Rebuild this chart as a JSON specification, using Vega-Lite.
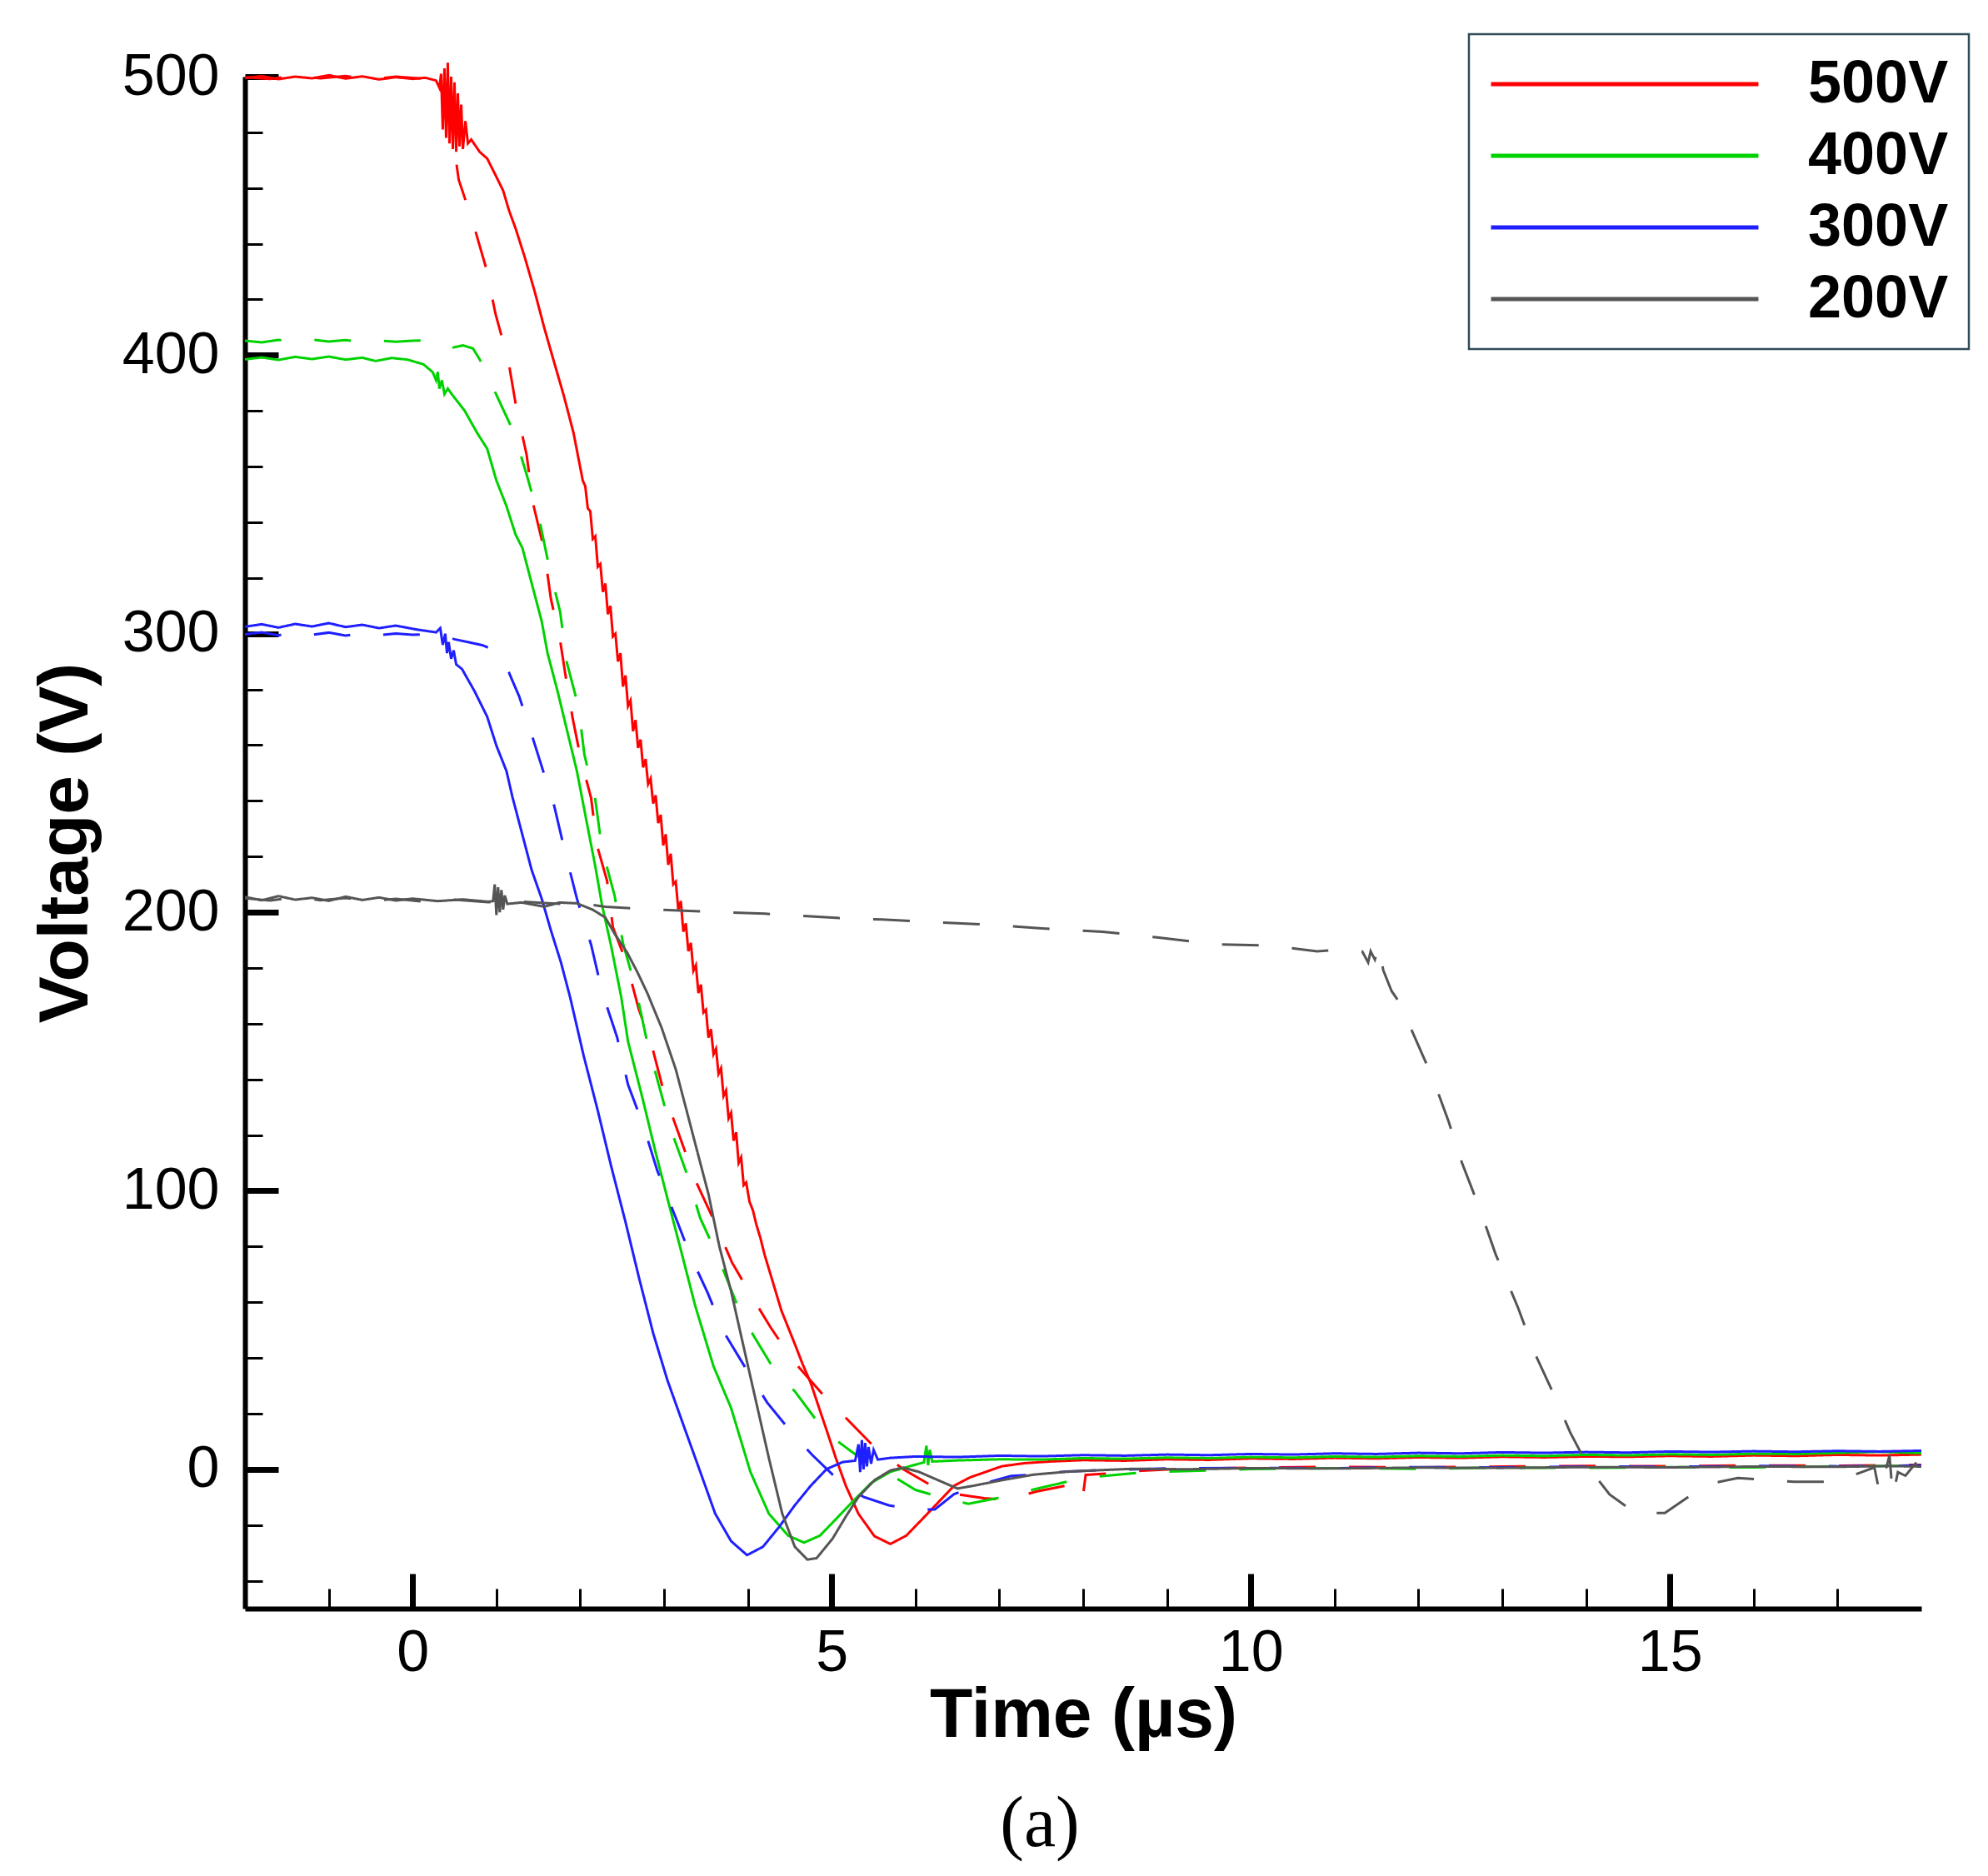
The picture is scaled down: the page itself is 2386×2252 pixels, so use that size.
{
  "$schema": "https://vega.github.io/schema/vega-lite/v6.json",
  "autosize": {"type": "none"},
  "padding": {"left": 294, "top": 92, "right": 80, "bottom": 321},
  "width": 2012,
  "height": 1839,
  "background": "white",
  "title": {
    "text": "(a)",
    "orient": "bottom",
    "anchor": "middle",
    "font": "Liberation Serif",
    "fontSize": 86,
    "fontWeight": "normal",
    "color": "black",
    "offset": 47,
    "dx": -52
  },
  "data": {
    "values": [
      {"s":"500V","k":"solid","t":-2,"v":499.5},{"s":"500V","k":"solid","t":-1.8,"v":500.2},{"s":"500V","k":"solid","t":-1.6,"v":499.1},{"s":"500V","k":"solid","t":-1.4,"v":500},{"s":"500V","k":"solid","t":-1.2,"v":499.4},{"s":"500V","k":"solid","t":-1,"v":500.5},{"s":"500V","k":"solid","t":-0.8,"v":499.3},{"s":"500V","k":"solid","t":-0.6,"v":500.1},{"s":"500V","k":"solid","t":-0.4,"v":499},{"s":"500V","k":"solid","t":-0.2,"v":499.8},{"s":"500V","k":"solid","t":0,"v":499.2},{"s":"500V","k":"solid","t":0.15,"v":499.6},{"s":"500V","k":"solid","t":0.28,"v":498.6},{"s":"500V","k":"solid","t":0.32,"v":496},{"s":"500V","k":"solid","t":0.34,"v":501},{"s":"500V","k":"solid","t":0.36,"v":481},{"s":"500V","k":"solid","t":0.38,"v":503},{"s":"500V","k":"solid","t":0.4,"v":478},{"s":"500V","k":"solid","t":0.42,"v":505},{"s":"500V","k":"solid","t":0.44,"v":476},{"s":"500V","k":"solid","t":0.46,"v":500},{"s":"500V","k":"solid","t":0.48,"v":474},{"s":"500V","k":"solid","t":0.5,"v":498},{"s":"500V","k":"solid","t":0.52,"v":473},{"s":"500V","k":"solid","t":0.54,"v":494},{"s":"500V","k":"solid","t":0.56,"v":475},{"s":"500V","k":"solid","t":0.58,"v":490},{"s":"500V","k":"solid","t":0.6,"v":474},{"s":"500V","k":"solid","t":0.63,"v":484},{"s":"500V","k":"solid","t":0.66,"v":476},{"s":"500V","k":"solid","t":0.7,"v":477.4},{"s":"500V","k":"solid","t":0.8,"v":473},{"s":"500V","k":"solid","t":0.89,"v":470.6},{"s":"500V","k":"solid","t":1,"v":464},{"s":"500V","k":"solid","t":1.08,"v":459.1},{"s":"500V","k":"solid","t":1.15,"v":452},{"s":"500V","k":"solid","t":1.23,"v":445.4},{"s":"500V","k":"solid","t":1.34,"v":435},{"s":"500V","k":"solid","t":1.46,"v":422.5},{"s":"500V","k":"solid","t":1.57,"v":409.9},{"s":"500V","k":"solid","t":1.69,"v":397.3},{"s":"500V","k":"solid","t":1.8,"v":385.9},{"s":"500V","k":"solid","t":1.92,"v":372.1},{"s":"500V","k":"solid","t":2.03,"v":355},{"s":"500V","k":"solid","t":2.06,"v":353},{"s":"500V","k":"solid","t":2.09,"v":345},{"s":"500V","k":"solid","t":2.12,"v":344},{"s":"500V","k":"solid","t":2.15,"v":334},{"s":"500V","k":"solid","t":2.18,"v":335},{"s":"500V","k":"solid","t":2.21,"v":324},{"s":"500V","k":"solid","t":2.24,"v":325},{"s":"500V","k":"solid","t":2.27,"v":315},{"s":"500V","k":"solid","t":2.3,"v":318},{"s":"500V","k":"solid","t":2.33,"v":307},{"s":"500V","k":"solid","t":2.36,"v":310},{"s":"500V","k":"solid","t":2.39,"v":299},{"s":"500V","k":"solid","t":2.42,"v":300},{"s":"500V","k":"solid","t":2.45,"v":290},{"s":"500V","k":"solid","t":2.48,"v":293},{"s":"500V","k":"solid","t":2.51,"v":281},{"s":"500V","k":"solid","t":2.54,"v":285},{"s":"500V","k":"solid","t":2.57,"v":274},{"s":"500V","k":"solid","t":2.6,"v":276},{"s":"500V","k":"solid","t":2.63,"v":265},{"s":"500V","k":"solid","t":2.66,"v":269},{"s":"500V","k":"solid","t":2.69,"v":259},{"s":"500V","k":"solid","t":2.72,"v":262},{"s":"500V","k":"solid","t":2.75,"v":252},{"s":"500V","k":"solid","t":2.78,"v":255},{"s":"500V","k":"solid","t":2.81,"v":246},{"s":"500V","k":"solid","t":2.84,"v":248},{"s":"500V","k":"solid","t":2.87,"v":239},{"s":"500V","k":"solid","t":2.9,"v":242},{"s":"500V","k":"solid","t":2.93,"v":232},{"s":"500V","k":"solid","t":2.96,"v":235},{"s":"500V","k":"solid","t":2.99,"v":224},{"s":"500V","k":"solid","t":3.02,"v":228},{"s":"500V","k":"solid","t":3.05,"v":217},{"s":"500V","k":"solid","t":3.08,"v":221},{"s":"500V","k":"solid","t":3.11,"v":210},{"s":"500V","k":"solid","t":3.14,"v":211},{"s":"500V","k":"solid","t":3.17,"v":201},{"s":"500V","k":"solid","t":3.2,"v":204},{"s":"500V","k":"solid","t":3.23,"v":193},{"s":"500V","k":"solid","t":3.26,"v":196},{"s":"500V","k":"solid","t":3.29,"v":186},{"s":"500V","k":"solid","t":3.32,"v":189},{"s":"500V","k":"solid","t":3.35,"v":179},{"s":"500V","k":"solid","t":3.38,"v":181},{"s":"500V","k":"solid","t":3.41,"v":171},{"s":"500V","k":"solid","t":3.44,"v":174},{"s":"500V","k":"solid","t":3.47,"v":164},{"s":"500V","k":"solid","t":3.5,"v":165},{"s":"500V","k":"solid","t":3.53,"v":155},{"s":"500V","k":"solid","t":3.56,"v":158},{"s":"500V","k":"solid","t":3.59,"v":149},{"s":"500V","k":"solid","t":3.62,"v":151},{"s":"500V","k":"solid","t":3.65,"v":142},{"s":"500V","k":"solid","t":3.68,"v":144},{"s":"500V","k":"solid","t":3.71,"v":134},{"s":"500V","k":"solid","t":3.74,"v":136},{"s":"500V","k":"solid","t":3.77,"v":126},{"s":"500V","k":"solid","t":3.8,"v":128},{"s":"500V","k":"solid","t":3.83,"v":118},{"s":"500V","k":"solid","t":3.86,"v":121},{"s":"500V","k":"solid","t":3.89,"v":110},{"s":"500V","k":"solid","t":3.92,"v":112},{"s":"500V","k":"solid","t":3.95,"v":102},{"s":"500V","k":"solid","t":3.98,"v":103},{"s":"500V","k":"solid","t":4.02,"v":96},{"s":"500V","k":"solid","t":4.06,"v":93},{"s":"500V","k":"solid","t":4.1,"v":88},{"s":"500V","k":"solid","t":4.15,"v":83},{"s":"500V","k":"solid","t":4.2,"v":77},{"s":"500V","k":"solid","t":4.25,"v":72},{"s":"500V","k":"solid","t":4.3,"v":67},{"s":"500V","k":"solid","t":4.35,"v":62},{"s":"500V","k":"solid","t":4.4,"v":57},{"s":"500V","k":"solid","t":4.48,"v":51},{"s":"500V","k":"solid","t":4.56,"v":45},{"s":"500V","k":"solid","t":4.65,"v":38},{"s":"500V","k":"solid","t":4.75,"v":31},{"s":"500V","k":"solid","t":4.85,"v":22},{"s":"500V","k":"solid","t":4.94,"v":14},{"s":"500V","k":"solid","t":5.05,"v":4},{"s":"500V","k":"solid","t":5.17,"v":-6},{"s":"500V","k":"solid","t":5.32,"v":-16},{"s":"500V","k":"solid","t":5.51,"v":-24},{"s":"500V","k":"solid","t":5.7,"v":-26.8},{"s":"500V","k":"solid","t":5.89,"v":-23.8},{"s":"500V","k":"solid","t":6.08,"v":-17.9},{"s":"500V","k":"solid","t":6.27,"v":-11.9},{"s":"500V","k":"solid","t":6.46,"v":-5.9},{"s":"500V","k":"solid","t":6.65,"v":-2.9},{"s":"500V","k":"solid","t":6.84,"v":-0.9},{"s":"500V","k":"solid","t":7.03,"v":1.1},{"s":"500V","k":"solid","t":7.3,"v":2.2},{"s":"500V","k":"solid","t":7.6,"v":2.8},{"s":"500V","k":"solid","t":8,"v":3.3},{"s":"500V","k":"solid","t":8.5,"v":3.1},{"s":"500V","k":"solid","t":9,"v":3.6},{"s":"500V","k":"solid","t":9.5,"v":3.4},{"s":"500V","k":"solid","t":10,"v":3.9},{"s":"500V","k":"solid","t":10.5,"v":3.7},{"s":"500V","k":"solid","t":11,"v":4.1},{"s":"500V","k":"solid","t":11.5,"v":3.9},{"s":"500V","k":"solid","t":12,"v":4.3},{"s":"500V","k":"solid","t":12.5,"v":4.1},{"s":"500V","k":"solid","t":13,"v":4.5},{"s":"500V","k":"solid","t":13.5,"v":4.3},{"s":"500V","k":"solid","t":14,"v":4.6},{"s":"500V","k":"solid","t":14.5,"v":4.5},{"s":"500V","k":"solid","t":15,"v":4.8},{"s":"500V","k":"solid","t":15.5,"v":4.6},{"s":"500V","k":"solid","t":16,"v":5},{"s":"500V","k":"solid","t":16.5,"v":4.8},{"s":"500V","k":"solid","t":17,"v":5.2},{"s":"500V","k":"solid","t":17.5,"v":5},{"s":"500V","k":"solid","t":18,"v":5.3},

      {"s":"500V","k":"dashed","t":-2,"v":499.8},{"s":"500V","k":"dashed","t":-1.7,"v":499.2},{"s":"500V","k":"dashed","t":-1.4,"v":500.3},{"s":"500V","k":"dashed","t":-1.1,"v":499.4},{"s":"500V","k":"dashed","t":-0.8,"v":500.2},{"s":"500V","k":"dashed","t":-0.5,"v":499.1},{"s":"500V","k":"dashed","t":-0.2,"v":500},{"s":"500V","k":"dashed","t":0.1,"v":499.3},{"s":"500V","k":"dashed","t":0.3,"v":498.5},{"s":"500V","k":"dashed","t":0.4,"v":490},{"s":"500V","k":"dashed","t":0.48,"v":478},{"s":"500V","k":"dashed","t":0.55,"v":463},{"s":"500V","k":"dashed","t":0.72,"v":447.6},{"s":"500V","k":"dashed","t":0.88,"v":431},{"s":"500V","k":"dashed","t":0.99,"v":414.7},{"s":"500V","k":"dashed","t":1.14,"v":398.4},{"s":"500V","k":"dashed","t":1.24,"v":380.7},{"s":"500V","k":"dashed","t":1.36,"v":364.3},{"s":"500V","k":"dashed","t":1.44,"v":346.4},{"s":"500V","k":"dashed","t":1.57,"v":330},{"s":"500V","k":"dashed","t":1.65,"v":312.5},{"s":"500V","k":"dashed","t":1.76,"v":297.6},{"s":"500V","k":"dashed","t":1.83,"v":284},{"s":"500V","k":"dashed","t":1.91,"v":269.6},{"s":"500V","k":"dashed","t":2.01,"v":254.6},{"s":"500V","k":"dashed","t":2.13,"v":241},{"s":"500V","k":"dashed","t":2.2,"v":224},{"s":"500V","k":"dashed","t":2.32,"v":211.3},{"s":"500V","k":"dashed","t":2.39,"v":194.6},{"s":"500V","k":"dashed","t":2.55,"v":182},{"s":"500V","k":"dashed","t":2.7,"v":165},{"s":"500V","k":"dashed","t":2.85,"v":152.6},{"s":"500V","k":"dashed","t":3,"v":135.1},{"s":"500V","k":"dashed","t":3.19,"v":119.2},{"s":"500V","k":"dashed","t":3.38,"v":103.3},{"s":"500V","k":"dashed","t":3.61,"v":88.4},{"s":"500V","k":"dashed","t":3.81,"v":74.3},{"s":"500V","k":"dashed","t":4.05,"v":61.9},{"s":"500V","k":"dashed","t":4.27,"v":51},{"s":"500V","k":"dashed","t":4.54,"v":39},{"s":"500V","k":"dashed","t":4.89,"v":27},{"s":"500V","k":"dashed","t":5.2,"v":17.5},{"s":"500V","k":"dashed","t":5.51,"v":8},{"s":"500V","k":"dashed","t":5.85,"v":0.1},{"s":"500V","k":"dashed","t":6.2,"v":-6},{"s":"500V","k":"dashed","t":6.5,"v":-9},{"s":"500V","k":"dashed","t":6.82,"v":-10.4},{"s":"500V","k":"dashed","t":7.09,"v":-10.9},{"s":"500V","k":"dashed","t":7.45,"v":-7.9},{"s":"500V","k":"dashed","t":7.79,"v":-5.9},{"s":"500V","k":"dashed","t":7.95,"v":-4},{"s":"500V","k":"dashed","t":8,"v":-9},{"s":"500V","k":"dashed","t":8.03,"v":-2},{"s":"500V","k":"dashed","t":8.3,"v":-1.5},{"s":"500V","k":"dashed","t":8.7,"v":-0.5},{"s":"500V","k":"dashed","t":9.2,"v":0.2},{"s":"500V","k":"dashed","t":10,"v":0.6},{"s":"500V","k":"dashed","t":11,"v":0.9},{"s":"500V","k":"dashed","t":12,"v":0.7},{"s":"500V","k":"dashed","t":13,"v":1},{"s":"500V","k":"dashed","t":14,"v":1.2},{"s":"500V","k":"dashed","t":15,"v":1.1},{"s":"500V","k":"dashed","t":16,"v":1.4},{"s":"500V","k":"dashed","t":17,"v":1.3},{"s":"500V","k":"dashed","t":18,"v":1.6},

      {"s":"400V","k":"solid","t":-2,"v":398.5},{"s":"400V","k":"solid","t":-1.8,"v":399.2},{"s":"400V","k":"solid","t":-1.6,"v":398.3},{"s":"400V","k":"solid","t":-1.4,"v":399.4},{"s":"400V","k":"solid","t":-1.2,"v":398.6},{"s":"400V","k":"solid","t":-1,"v":399.5},{"s":"400V","k":"solid","t":-0.8,"v":398.4},{"s":"400V","k":"solid","t":-0.6,"v":399.1},{"s":"400V","k":"solid","t":-0.44,"v":397.9},{"s":"400V","k":"solid","t":-0.25,"v":399},{"s":"400V","k":"solid","t":-0.06,"v":398.4},{"s":"400V","k":"solid","t":0.13,"v":396.7},{"s":"400V","k":"solid","t":0.24,"v":393.9},{"s":"400V","k":"solid","t":0.28,"v":391},{"s":"400V","k":"solid","t":0.3,"v":394},{"s":"400V","k":"solid","t":0.32,"v":388},{"s":"400V","k":"solid","t":0.35,"v":391},{"s":"400V","k":"solid","t":0.38,"v":386},{"s":"400V","k":"solid","t":0.42,"v":388},{"s":"400V","k":"solid","t":0.47,"v":385.9},{"s":"400V","k":"solid","t":0.62,"v":380.1},{"s":"400V","k":"solid","t":0.77,"v":372.1},{"s":"400V","k":"solid","t":0.89,"v":366.4},{"s":"400V","k":"solid","t":1,"v":355},{"s":"400V","k":"solid","t":1.12,"v":345.8},{"s":"400V","k":"solid","t":1.23,"v":335.5},{"s":"400V","k":"solid","t":1.31,"v":330.8},{"s":"400V","k":"solid","t":1.42,"v":318.2},{"s":"400V","k":"solid","t":1.54,"v":304.5},{"s":"400V","k":"solid","t":1.61,"v":293},{"s":"400V","k":"solid","t":1.73,"v":279.3},{"s":"400V","k":"solid","t":1.84,"v":265.6},{"s":"400V","k":"solid","t":1.96,"v":250.7},{"s":"400V","k":"solid","t":2.07,"v":233.5},{"s":"400V","k":"solid","t":2.18,"v":216.4},{"s":"400V","k":"solid","t":2.26,"v":202.6},{"s":"400V","k":"solid","t":2.37,"v":187.7},{"s":"400V","k":"solid","t":2.49,"v":169.4},{"s":"400V","k":"solid","t":2.57,"v":153.6},{"s":"400V","k":"solid","t":2.74,"v":133.6},{"s":"400V","k":"solid","t":2.9,"v":113.7},{"s":"400V","k":"solid","t":3.07,"v":93.8},{"s":"400V","k":"solid","t":3.2,"v":78.8},{"s":"400V","k":"solid","t":3.37,"v":58.9},{"s":"400V","k":"solid","t":3.59,"v":37},{"s":"400V","k":"solid","t":3.8,"v":22},{"s":"400V","k":"solid","t":4.03,"v":-0.9},{"s":"400V","k":"solid","t":4.25,"v":-15.9},{"s":"400V","k":"solid","t":4.48,"v":-23.8},{"s":"400V","k":"solid","t":4.67,"v":-26.3},{"s":"400V","k":"solid","t":4.86,"v":-23.8},{"s":"400V","k":"solid","t":5.05,"v":-17.9},{"s":"400V","k":"solid","t":5.24,"v":-11.9},{"s":"400V","k":"solid","t":5.47,"v":-4.9},{"s":"400V","k":"solid","t":5.7,"v":-0.9},{"s":"400V","k":"solid","t":5.93,"v":1.1},{"s":"400V","k":"solid","t":6.1,"v":2.5},{"s":"400V","k":"solid","t":6.13,"v":8.5},{"s":"400V","k":"solid","t":6.15,"v":1.5},{"s":"400V","k":"solid","t":6.17,"v":7},{"s":"400V","k":"solid","t":6.2,"v":2.8},{"s":"400V","k":"solid","t":6.5,"v":3.2},{"s":"400V","k":"solid","t":7,"v":3.6},{"s":"400V","k":"solid","t":7.5,"v":3.5},{"s":"400V","k":"solid","t":8,"v":4},{"s":"400V","k":"solid","t":8.5,"v":3.8},{"s":"400V","k":"solid","t":9,"v":4.2},{"s":"400V","k":"solid","t":9.5,"v":4},{"s":"400V","k":"solid","t":10,"v":4.4},{"s":"400V","k":"solid","t":10.5,"v":4.2},{"s":"400V","k":"solid","t":11,"v":4.6},{"s":"400V","k":"solid","t":11.5,"v":4.4},{"s":"400V","k":"solid","t":12,"v":4.8},{"s":"400V","k":"solid","t":12.5,"v":4.6},{"s":"400V","k":"solid","t":13,"v":5},{"s":"400V","k":"solid","t":13.5,"v":4.8},{"s":"400V","k":"solid","t":14,"v":5.2},{"s":"400V","k":"solid","t":14.5,"v":5},{"s":"400V","k":"solid","t":15,"v":5.4},{"s":"400V","k":"solid","t":15.5,"v":5.2},{"s":"400V","k":"solid","t":16,"v":5.6},{"s":"400V","k":"solid","t":16.5,"v":5.5},{"s":"400V","k":"solid","t":17,"v":5.9},{"s":"400V","k":"solid","t":17.5,"v":6.3},{"s":"400V","k":"solid","t":18,"v":5.8},

      {"s":"400V","k":"dashed","t":-2,"v":405.2},{"s":"400V","k":"dashed","t":-1.8,"v":404.6},{"s":"400V","k":"dashed","t":-1.6,"v":405.5},{"s":"400V","k":"dashed","t":-1.4,"v":404.8},{"s":"400V","k":"dashed","t":-1.2,"v":405.6},{"s":"400V","k":"dashed","t":-1,"v":404.9},{"s":"400V","k":"dashed","t":-0.8,"v":405.4},{"s":"400V","k":"dashed","t":-0.6,"v":404.7},{"s":"400V","k":"dashed","t":-0.4,"v":405.3},{"s":"400V","k":"dashed","t":-0.2,"v":404.8},{"s":"400V","k":"dashed","t":0,"v":405.2},{"s":"400V","k":"dashed","t":0.18,"v":405.3},{"s":"400V","k":"dashed","t":0.43,"v":402.4},{"s":"400V","k":"dashed","t":0.6,"v":403.5},{"s":"400V","k":"dashed","t":0.72,"v":402.4},{"s":"400V","k":"dashed","t":0.87,"v":395},{"s":"400V","k":"dashed","t":0.99,"v":386.4},{"s":"400V","k":"dashed","t":1.21,"v":372.1},{"s":"400V","k":"dashed","t":1.36,"v":357.2},{"s":"400V","k":"dashed","t":1.51,"v":341.2},{"s":"400V","k":"dashed","t":1.63,"v":323.9},{"s":"400V","k":"dashed","t":1.76,"v":307.9},{"s":"400V","k":"dashed","t":1.84,"v":289.7},{"s":"400V","k":"dashed","t":1.98,"v":273.6},{"s":"400V","k":"dashed","t":2.05,"v":256.5},{"s":"400V","k":"dashed","t":2.18,"v":240.4},{"s":"400V","k":"dashed","t":2.26,"v":222.7},{"s":"400V","k":"dashed","t":2.41,"v":206},{"s":"400V","k":"dashed","t":2.51,"v":188.9},{"s":"400V","k":"dashed","t":2.66,"v":172.9},{"s":"400V","k":"dashed","t":2.79,"v":154.6},{"s":"400V","k":"dashed","t":2.94,"v":137.7},{"s":"400V","k":"dashed","t":3.09,"v":121.2},{"s":"400V","k":"dashed","t":3.27,"v":106.3},{"s":"400V","k":"dashed","t":3.43,"v":90.3},{"s":"400V","k":"dashed","t":3.65,"v":75.8},{"s":"400V","k":"dashed","t":3.86,"v":60},{"s":"400V","k":"dashed","t":4.06,"v":48.4},{"s":"400V","k":"dashed","t":4.31,"v":36},{"s":"400V","k":"dashed","t":4.56,"v":28},{"s":"400V","k":"dashed","t":4.82,"v":17.5},{"s":"400V","k":"dashed","t":5.05,"v":10.5},{"s":"400V","k":"dashed","t":5.41,"v":2.6},{"s":"400V","k":"dashed","t":5.7,"v":-1.9},{"s":"400V","k":"dashed","t":6,"v":-7.4},{"s":"400V","k":"dashed","t":6.29,"v":-9.9},{"s":"400V","k":"dashed","t":6.63,"v":-12.4},{"s":"400V","k":"dashed","t":6.97,"v":-10.4},{"s":"400V","k":"dashed","t":7.31,"v":-7.9},{"s":"400V","k":"dashed","t":7.6,"v":-5.9},{"s":"400V","k":"dashed","t":7.9,"v":-3.8},{"s":"400V","k":"dashed","t":8.2,"v":-2.5},{"s":"400V","k":"dashed","t":8.6,"v":-1.4},{"s":"400V","k":"dashed","t":9,"v":-0.8},{"s":"400V","k":"dashed","t":9.5,"v":-0.4},{"s":"400V","k":"dashed","t":10,"v":0.1},{"s":"400V","k":"dashed","t":11,"v":0.4},{"s":"400V","k":"dashed","t":12,"v":0.2},{"s":"400V","k":"dashed","t":13,"v":0.6},{"s":"400V","k":"dashed","t":14,"v":0.5},{"s":"400V","k":"dashed","t":15,"v":0.8},{"s":"400V","k":"dashed","t":16,"v":0.7},{"s":"400V","k":"dashed","t":17,"v":1.1},{"s":"400V","k":"dashed","t":18,"v":1.3},

      {"s":"300V","k":"solid","t":-2,"v":302.5},{"s":"300V","k":"solid","t":-1.8,"v":303.4},{"s":"300V","k":"solid","t":-1.6,"v":302.2},{"s":"300V","k":"solid","t":-1.4,"v":303.5},{"s":"300V","k":"solid","t":-1.2,"v":302.6},{"s":"300V","k":"solid","t":-1,"v":303.8},{"s":"300V","k":"solid","t":-0.8,"v":302.4},{"s":"300V","k":"solid","t":-0.6,"v":303.2},{"s":"300V","k":"solid","t":-0.4,"v":302},{"s":"300V","k":"solid","t":-0.2,"v":302.9},{"s":"300V","k":"solid","t":0.05,"v":301.5},{"s":"300V","k":"solid","t":0.28,"v":300.5},{"s":"300V","k":"solid","t":0.33,"v":302},{"s":"300V","k":"solid","t":0.36,"v":296},{"s":"300V","k":"solid","t":0.39,"v":300},{"s":"300V","k":"solid","t":0.41,"v":293},{"s":"300V","k":"solid","t":0.43,"v":297},{"s":"300V","k":"solid","t":0.46,"v":291},{"s":"300V","k":"solid","t":0.49,"v":294},{"s":"300V","k":"solid","t":0.52,"v":289},{"s":"300V","k":"solid","t":0.59,"v":287.3},{"s":"300V","k":"solid","t":0.74,"v":279.3},{"s":"300V","k":"solid","t":0.89,"v":270.2},{"s":"300V","k":"solid","t":1,"v":259.8},{"s":"300V","k":"solid","t":1.12,"v":250.7},{"s":"300V","k":"solid","t":1.19,"v":241.5},{"s":"300V","k":"solid","t":1.31,"v":227.8},{"s":"300V","k":"solid","t":1.42,"v":215.2},{"s":"300V","k":"solid","t":1.54,"v":204.9},{"s":"300V","k":"solid","t":1.65,"v":193.5},{"s":"300V","k":"solid","t":1.77,"v":182},{"s":"300V","k":"solid","t":1.88,"v":169.4},{"s":"300V","k":"solid","t":2.04,"v":148.6},{"s":"300V","k":"solid","t":2.21,"v":128.7},{"s":"300V","k":"solid","t":2.37,"v":108.7},{"s":"300V","k":"solid","t":2.54,"v":88.8},{"s":"300V","k":"solid","t":2.7,"v":68.9},{"s":"300V","k":"solid","t":2.87,"v":48.9},{"s":"300V","k":"solid","t":3.04,"v":32},{"s":"300V","k":"solid","t":3.23,"v":16},{"s":"300V","k":"solid","t":3.42,"v":0.1},{"s":"300V","k":"solid","t":3.61,"v":-15.9},{"s":"300V","k":"solid","t":3.8,"v":-25.8},{"s":"300V","k":"solid","t":3.99,"v":-30.8},{"s":"300V","k":"solid","t":4.18,"v":-27.8},{"s":"300V","k":"solid","t":4.37,"v":-20.8},{"s":"300V","k":"solid","t":4.56,"v":-12.9},{"s":"300V","k":"solid","t":4.75,"v":-5.9},{"s":"300V","k":"solid","t":4.94,"v":0.1},{"s":"300V","k":"solid","t":5.13,"v":2.6},{"s":"300V","k":"solid","t":5.28,"v":3.1},{"s":"300V","k":"solid","t":5.32,"v":9},{"s":"300V","k":"solid","t":5.34,"v":-1},{"s":"300V","k":"solid","t":5.36,"v":10.5},{"s":"300V","k":"solid","t":5.38,"v":0},{"s":"300V","k":"solid","t":5.4,"v":9.5},{"s":"300V","k":"solid","t":5.42,"v":1},{"s":"300V","k":"solid","t":5.44,"v":8},{"s":"300V","k":"solid","t":5.47,"v":2},{"s":"300V","k":"solid","t":5.5,"v":7},{"s":"300V","k":"solid","t":5.55,"v":3.5},{"s":"300V","k":"solid","t":5.7,"v":4.1},{"s":"300V","k":"solid","t":6,"v":4.6},{"s":"300V","k":"solid","t":6.5,"v":4.4},{"s":"300V","k":"solid","t":7,"v":4.9},{"s":"300V","k":"solid","t":7.5,"v":4.7},{"s":"300V","k":"solid","t":8,"v":5.1},{"s":"300V","k":"solid","t":8.5,"v":4.9},{"s":"300V","k":"solid","t":9,"v":5.3},{"s":"300V","k":"solid","t":9.5,"v":5.1},{"s":"300V","k":"solid","t":10,"v":5.5},{"s":"300V","k":"solid","t":10.5,"v":5.3},{"s":"300V","k":"solid","t":11,"v":5.7},{"s":"300V","k":"solid","t":11.5,"v":5.5},{"s":"300V","k":"solid","t":12,"v":5.9},{"s":"300V","k":"solid","t":12.5,"v":5.7},{"s":"300V","k":"solid","t":13,"v":6.1},{"s":"300V","k":"solid","t":13.5,"v":5.9},{"s":"300V","k":"solid","t":14,"v":6.2},{"s":"300V","k":"solid","t":14.5,"v":6},{"s":"300V","k":"solid","t":15,"v":6.4},{"s":"300V","k":"solid","t":15.5,"v":6.2},{"s":"300V","k":"solid","t":16,"v":6.5},{"s":"300V","k":"solid","t":16.5,"v":6.3},{"s":"300V","k":"solid","t":17,"v":6.6},{"s":"300V","k":"solid","t":17.5,"v":6.4},{"s":"300V","k":"solid","t":18,"v":6.7},

      {"s":"300V","k":"dashed","t":-2,"v":299.8},{"s":"300V","k":"dashed","t":-1.8,"v":300.5},{"s":"300V","k":"dashed","t":-1.6,"v":299.4},{"s":"300V","k":"dashed","t":-1.4,"v":300.6},{"s":"300V","k":"dashed","t":-1.2,"v":299.6},{"s":"300V","k":"dashed","t":-1,"v":300.4},{"s":"300V","k":"dashed","t":-0.8,"v":299.3},{"s":"300V","k":"dashed","t":-0.6,"v":300.2},{"s":"300V","k":"dashed","t":-0.4,"v":299.5},{"s":"300V","k":"dashed","t":-0.2,"v":300.1},{"s":"300V","k":"dashed","t":0,"v":299.6},{"s":"300V","k":"dashed","t":0.3,"v":299.8},{"s":"300V","k":"dashed","t":0.5,"v":298},{"s":"300V","k":"dashed","t":0.66,"v":297},{"s":"300V","k":"dashed","t":0.83,"v":295.9},{"s":"300V","k":"dashed","t":0.97,"v":294.2},{"s":"300V","k":"dashed","t":1.1,"v":289.6},{"s":"300V","k":"dashed","t":1.18,"v":283.9},{"s":"300V","k":"dashed","t":1.27,"v":277.6},{"s":"300V","k":"dashed","t":1.39,"v":266.7},{"s":"300V","k":"dashed","t":1.54,"v":252.4},{"s":"300V","k":"dashed","t":1.69,"v":238.1},{"s":"300V","k":"dashed","t":1.81,"v":222.7},{"s":"300V","k":"dashed","t":1.96,"v":204.9},{"s":"300V","k":"dashed","t":2.13,"v":188.3},{"s":"300V","k":"dashed","t":2.26,"v":171.5},{"s":"300V","k":"dashed","t":2.44,"v":155.1},{"s":"300V","k":"dashed","t":2.57,"v":138.1},{"s":"300V","k":"dashed","t":2.75,"v":123.7},{"s":"300V","k":"dashed","t":2.92,"v":107.2},{"s":"300V","k":"dashed","t":3.14,"v":90.3},{"s":"300V","k":"dashed","t":3.32,"v":76.3},{"s":"300V","k":"dashed","t":3.52,"v":63.4},{"s":"300V","k":"dashed","t":3.71,"v":49.4},{"s":"300V","k":"dashed","t":3.96,"v":37},{"s":"300V","k":"dashed","t":4.23,"v":24},{"s":"300V","k":"dashed","t":4.5,"v":14},{"s":"300V","k":"dashed","t":4.77,"v":5.1},{"s":"300V","k":"dashed","t":5.01,"v":-1.9},{"s":"300V","k":"dashed","t":5.38,"v":-9.9},{"s":"300V","k":"dashed","t":5.68,"v":-12.9},{"s":"300V","k":"dashed","t":5.97,"v":-14.4},{"s":"300V","k":"dashed","t":6.23,"v":-14.4},{"s":"300V","k":"dashed","t":6.46,"v":-8.9},{"s":"300V","k":"dashed","t":6.84,"v":-4.9},{"s":"300V","k":"dashed","t":7.14,"v":-2.4},{"s":"300V","k":"dashed","t":7.41,"v":-1.9},{"s":"300V","k":"dashed","t":7.8,"v":-0.8},{"s":"300V","k":"dashed","t":8.3,"v":-0.2},{"s":"300V","k":"dashed","t":9,"v":0.3},{"s":"300V","k":"dashed","t":10,"v":0.5},{"s":"300V","k":"dashed","t":11,"v":0.4},{"s":"300V","k":"dashed","t":12,"v":0.8},{"s":"300V","k":"dashed","t":13,"v":0.7},{"s":"300V","k":"dashed","t":14,"v":1},{"s":"300V","k":"dashed","t":15,"v":0.9},{"s":"300V","k":"dashed","t":16,"v":1.2},{"s":"300V","k":"dashed","t":17,"v":1.1},{"s":"300V","k":"dashed","t":18,"v":1.4},

      {"s":"200V","k":"solid","t":-2,"v":205.5},{"s":"200V","k":"solid","t":-1.8,"v":204.3},{"s":"200V","k":"solid","t":-1.6,"v":205.8},{"s":"200V","k":"solid","t":-1.4,"v":204.5},{"s":"200V","k":"solid","t":-1.2,"v":205.2},{"s":"200V","k":"solid","t":-1,"v":204.1},{"s":"200V","k":"solid","t":-0.8,"v":205.6},{"s":"200V","k":"solid","t":-0.6,"v":204.4},{"s":"200V","k":"solid","t":-0.4,"v":205.3},{"s":"200V","k":"solid","t":-0.2,"v":204.2},{"s":"200V","k":"solid","t":0,"v":204.9},{"s":"200V","k":"solid","t":0.3,"v":204},{"s":"200V","k":"solid","t":0.6,"v":204.6},{"s":"200V","k":"solid","t":0.9,"v":203.8},{"s":"200V","k":"solid","t":0.96,"v":204},{"s":"200V","k":"solid","t":0.98,"v":210},{"s":"200V","k":"solid","t":1,"v":199},{"s":"200V","k":"solid","t":1.02,"v":209},{"s":"200V","k":"solid","t":1.04,"v":200},{"s":"200V","k":"solid","t":1.06,"v":208},{"s":"200V","k":"solid","t":1.08,"v":201},{"s":"200V","k":"solid","t":1.1,"v":206},{"s":"200V","k":"solid","t":1.13,"v":203},{"s":"200V","k":"solid","t":1.3,"v":203.5},{"s":"200V","k":"solid","t":1.57,"v":202},{"s":"200V","k":"solid","t":1.75,"v":203.5},{"s":"200V","k":"solid","t":1.96,"v":203.2},{"s":"200V","k":"solid","t":2.15,"v":200.9},{"s":"200V","k":"solid","t":2.3,"v":198.1},{"s":"200V","k":"solid","t":2.41,"v":192.3},{"s":"200V","k":"solid","t":2.56,"v":185.5},{"s":"200V","k":"solid","t":2.68,"v":178.6},{"s":"200V","k":"solid","t":2.8,"v":171},{"s":"200V","k":"solid","t":2.97,"v":158.6},{"s":"200V","k":"solid","t":3.14,"v":143.6},{"s":"200V","k":"solid","t":3.27,"v":128.7},{"s":"200V","k":"solid","t":3.4,"v":113.7},{"s":"200V","k":"solid","t":3.53,"v":98.8},{"s":"200V","k":"solid","t":3.66,"v":80},{"s":"200V","k":"solid","t":3.8,"v":63.9},{"s":"200V","k":"solid","t":3.95,"v":43.9},{"s":"200V","k":"solid","t":4.1,"v":24},{"s":"200V","k":"solid","t":4.25,"v":4.1},{"s":"200V","k":"solid","t":4.41,"v":-15.9},{"s":"200V","k":"solid","t":4.56,"v":-27.8},{"s":"200V","k":"solid","t":4.71,"v":-32.4},{"s":"200V","k":"solid","t":4.82,"v":-31.9},{"s":"200V","k":"solid","t":5.01,"v":-24.9},{"s":"200V","k":"solid","t":5.17,"v":-16.9},{"s":"200V","k":"solid","t":5.32,"v":-9.9},{"s":"200V","k":"solid","t":5.51,"v":-3.9},{"s":"200V","k":"solid","t":5.7,"v":-0.4},{"s":"200V","k":"solid","t":5.85,"v":0.6},{"s":"200V","k":"solid","t":6.04,"v":-0.9},{"s":"200V","k":"solid","t":6.27,"v":-3.9},{"s":"200V","k":"solid","t":6.5,"v":-6.9},{"s":"200V","k":"solid","t":6.69,"v":-5.9},{"s":"200V","k":"solid","t":7.03,"v":-3.9},{"s":"200V","k":"solid","t":7.41,"v":-1.9},{"s":"200V","k":"solid","t":7.79,"v":-0.9},{"s":"200V","k":"solid","t":8.2,"v":-0.3},{"s":"200V","k":"solid","t":8.6,"v":0.2},{"s":"200V","k":"solid","t":9.2,"v":0},{"s":"200V","k":"solid","t":10,"v":0.4},{"s":"200V","k":"solid","t":11,"v":0.3},{"s":"200V","k":"solid","t":12,"v":0.6},{"s":"200V","k":"solid","t":13,"v":0.5},{"s":"200V","k":"solid","t":14,"v":0.8},{"s":"200V","k":"solid","t":15,"v":0.7},{"s":"200V","k":"solid","t":16,"v":1},{"s":"200V","k":"solid","t":17,"v":0.9},{"s":"200V","k":"solid","t":17.6,"v":1.2},{"s":"200V","k":"solid","t":18,"v":1},

      {"s":"200V","k":"dashed","t":-2,"v":205},{"s":"200V","k":"dashed","t":-1.7,"v":204.2},{"s":"200V","k":"dashed","t":-1.4,"v":205.4},{"s":"200V","k":"dashed","t":-1.1,"v":204.3},{"s":"200V","k":"dashed","t":-0.8,"v":205.1},{"s":"200V","k":"dashed","t":-0.5,"v":204},{"s":"200V","k":"dashed","t":-0.2,"v":204.8},{"s":"200V","k":"dashed","t":0.1,"v":203.9},{"s":"200V","k":"dashed","t":0.5,"v":204.5},{"s":"200V","k":"dashed","t":0.9,"v":203.6},{"s":"200V","k":"dashed","t":1.3,"v":203.8},{"s":"200V","k":"dashed","t":1.7,"v":203.1},{"s":"200V","k":"dashed","t":2.1,"v":202.8},{"s":"200V","k":"dashed","t":2.3,"v":202},{"s":"200V","k":"dashed","t":2.56,"v":201.5},{"s":"200V","k":"dashed","t":2.9,"v":201},{"s":"200V","k":"dashed","t":3.3,"v":200.5},{"s":"200V","k":"dashed","t":3.78,"v":199.9},{"s":"200V","k":"dashed","t":4.2,"v":199.5},{"s":"200V","k":"dashed","t":4.55,"v":198.9},{"s":"200V","k":"dashed","t":5.09,"v":197.9},{"s":"200V","k":"dashed","t":5.6,"v":197.4},{"s":"200V","k":"dashed","t":6.26,"v":196.4},{"s":"200V","k":"dashed","t":6.94,"v":195.4},{"s":"200V","k":"dashed","t":7.51,"v":194.2},{"s":"200V","k":"dashed","t":8.23,"v":193},{"s":"200V","k":"dashed","t":8.88,"v":191},{"s":"200V","k":"dashed","t":9.57,"v":188.5},{"s":"200V","k":"dashed","t":10.25,"v":188},{"s":"200V","k":"dashed","t":10.79,"v":186},{"s":"200V","k":"dashed","t":11.06,"v":186.6},{"s":"200V","k":"dashed","t":11.33,"v":185.9},{"s":"200V","k":"dashed","t":11.4,"v":182},{"s":"200V","k":"dashed","t":11.43,"v":186},{"s":"200V","k":"dashed","t":11.48,"v":183},{"s":"200V","k":"dashed","t":11.53,"v":188.1},{"s":"200V","k":"dashed","t":11.58,"v":179.2},{"s":"200V","k":"dashed","t":11.68,"v":171.7},{"s":"200V","k":"dashed","t":11.78,"v":167.3},{"s":"200V","k":"dashed","t":11.93,"v":156.9},{"s":"200V","k":"dashed","t":12.17,"v":140.5},{"s":"200V","k":"dashed","t":12.36,"v":124.9},{"s":"200V","k":"dashed","t":12.52,"v":110},{"s":"200V","k":"dashed","t":12.74,"v":92.9},{"s":"200V","k":"dashed","t":12.92,"v":77.3},{"s":"200V","k":"dashed","t":13.19,"v":57.9},{"s":"200V","k":"dashed","t":13.39,"v":41.6},{"s":"200V","k":"dashed","t":13.63,"v":25.9},{"s":"200V","k":"dashed","t":13.81,"v":13.3},{"s":"200V","k":"dashed","t":14.03,"v":0.7},{"s":"200V","k":"dashed","t":14.28,"v":-9},{"s":"200V","k":"dashed","t":14.45,"v":-12.7},{"s":"200V","k":"dashed","t":14.6,"v":-15.7},{"s":"200V","k":"dashed","t":14.94,"v":-15.7},{"s":"200V","k":"dashed","t":15.19,"v":-10.5},{"s":"200V","k":"dashed","t":15.46,"v":-5.3},{"s":"200V","k":"dashed","t":15.81,"v":-3.1},{"s":"200V","k":"dashed","t":16.16,"v":-3.8},{"s":"200V","k":"dashed","t":16.48,"v":-4.5},{"s":"200V","k":"dashed","t":16.85,"v":-4.5},{"s":"200V","k":"dashed","t":17.17,"v":-2.3},{"s":"200V","k":"dashed","t":17.44,"v":0.7},{"s":"200V","k":"dashed","t":17.5,"v":-8.3},{"s":"200V","k":"dashed","t":17.56,"v":-2},{"s":"200V","k":"dashed","t":17.62,"v":5},{"s":"200V","k":"dashed","t":17.66,"v":-9.8},{"s":"200V","k":"dashed","t":17.72,"v":-1},{"s":"200V","k":"dashed","t":17.81,"v":-2.3},{"s":"200V","k":"dashed","t":17.93,"v":2.1},{"s":"200V","k":"dashed","t":18,"v":0.5}
    ]
  },
  "mark": {"type": "line", "strokeWidth": 3, "clip": false},
  "encoding": {
    "x": {
      "field": "t",
      "type": "quantitative",
      "scale": {"domain": [-2, 18], "nice": false, "zero": false},
      "axis": {
        "title": "Time (µs)",
        "values": [-1, 0, 1, 2, 3, 4, 5, 6, 7, 8, 9, 10, 11, 12, 13, 14, 15, 16, 17],
        "labelExpr": "datum.value % 5 === 0 ? datum.label : ''",
        "tickSize": {"condition": {"test": "datum.value % 5 === 0", "value": -42}, "value": -24},
        "tickWidth": {"condition": {"test": "datum.value % 5 === 0", "value": 7}, "value": 3},
        "labelPadding": 61,
        "titlePadding": -19
      }
    },
    "y": {
      "field": "v",
      "type": "quantitative",
      "scale": {"domain": [-50, 500], "nice": false, "zero": false},
      "axis": {
        "title": "Voltage (V)",
        "values": [-40, -20, 0, 20, 40, 60, 80, 100, 120, 140, 160, 180, 200, 220, 240, 260, 280, 300, 320, 340, 360, 380, 400, 420, 440, 460, 480, 500],
        "labelExpr": "datum.value % 100 === 0 ? datum.label : ''",
        "tickSize": {"condition": {"test": "datum.value % 100 === 0", "value": -40}, "value": -21},
        "tickWidth": {"condition": {"test": "datum.value % 100 === 0", "value": 7}, "value": 3},
        "labelPadding": 71,
        "titlePadding": 24
      }
    },
    "color": {
      "field": "s",
      "type": "nominal",
      "scale": {"domain": ["500V", "400V", "300V", "200V"], "range": ["#ff0000", "#00d200", "#1f1fff", "#555555"]},
      "legend": {
        "orient": "none",
        "legendX": 1469,
        "legendY": -51,
        "title": null,
        "symbolType": "M-1,0H1",
        "symbolSize": 103000,
        "symbolStrokeWidth": 5,
        "clipHeight": 72,
        "labelOffset": 57,
        "labelLimit": 400,
        "padding": 24,
        "rowPadding": 14,
        "strokeColor": "#2f4b57",
        "fillColor": "white"
      }
    },
    "strokeDash": {
      "field": "k",
      "type": "nominal",
      "scale": {"domain": ["solid", "dashed"], "range": [[1, 0], [44, 40]]},
      "legend": null
    }
  },
  "config": {
    "view": {"stroke": null},
    "axis": {
      "grid": false,
      "domainColor": "black",
      "domainWidth": 6,
      "tickColor": "black",
      "labelColor": "black",
      "labelFont": "Liberation Sans",
      "labelFontSize": 70,
      "labelFlush": false,
      "labelOverlap": false,
      "titleColor": "black",
      "titleFont": "Liberation Sans",
      "titleFontSize": 84,
      "titleFontWeight": "bold"
    },
    "legend": {
      "labelFont": "Liberation Sans",
      "labelFontSize": 72,
      "labelFontWeight": "bold",
      "labelColor": "black",
      "strokeWidth": 2.5,
      "symbolOpacity": 1
    }
  }
}
